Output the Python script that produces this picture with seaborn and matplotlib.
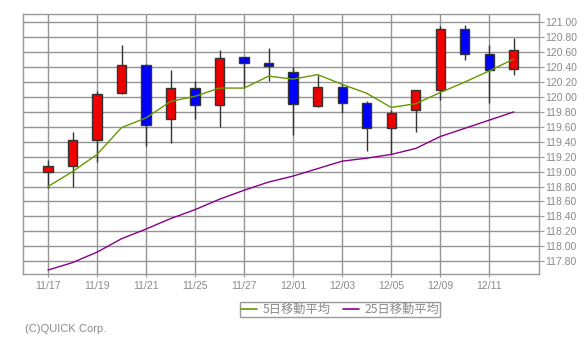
import matplotlib
matplotlib.use("Agg")
import matplotlib.pyplot as plt
import seaborn as sns
import numpy as np
import pandas as pd
from matplotlib.lines import Line2D

# ---- data ----
dates = ["11/17", "11/18", "11/19", "11/20", "11/21", "11/24", "11/25", "11/26", "11/27", "11/28",
         "12/01", "12/02", "12/03", "12/04", "12/05", "12/08", "12/09", "12/10", "12/11", "12/12"]
opens = [119.00, 119.07, 119.42, 120.05, 120.43, 119.70, 120.12, 119.89, 120.53, 120.45,
         120.33, 119.88, 120.14, 119.92, 119.58, 119.82, 120.09, 120.91, 120.57, 120.37]
highs = [119.16, 119.53, 120.08, 120.70, 120.44, 120.36, 120.22, 120.63, 120.53, 120.66,
         120.40, 120.30, 120.18, 119.95, 119.83, 120.09, 120.95, 120.97, 120.70, 120.79]
lows = [118.78, 118.79, 119.13, 120.04, 119.34, 119.39, 119.71, 119.60, 120.12, 120.21,
        119.49, 119.86, 119.78, 119.27, 119.23, 119.53, 119.96, 120.49, 119.92, 120.30]
closes = [119.07, 119.43, 120.04, 120.43, 119.62, 120.12, 119.89, 120.52, 120.45, 120.41,
          119.90, 120.14, 119.92, 119.58, 119.78, 120.09, 120.91, 120.57, 120.36, 120.63]
ma5 = [118.80, 119.00, 119.23, 119.59, 119.72, 119.94, 120.01, 120.12, 120.12, 120.28,
       120.24, 120.30, 120.17, 120.05, 119.86, 119.91, 120.06, 120.20, 120.35, 120.51]
ma25 = [117.68, 117.78, 117.92, 118.10, 118.23, 118.37, 118.49, 118.63, 118.75, 118.86,
        118.94, 119.04, 119.14, 119.18, 119.23, 119.31, 119.47, 119.58, 119.69, 119.80]
ytick_values = [117.80, 118.00, 118.20, 118.40, 118.60, 118.80, 119.00, 119.20, 119.40,
                119.60, 119.80, 120.00, 120.20, 120.40, 120.60, 120.80, 121.00]
legend_labels = ["5日移動平均", "25日移動平均"]
copyright_text = "(C)QUICK Corp."

df = pd.DataFrame({"date": dates, "open": opens, "high": highs, "low": lows,
                   "close": closes, "ma5": ma5, "ma25": ma25})
df["i"] = np.arange(len(df))

sns.set_style("white")
plt.rcParams["font.family"] = ["Liberation Sans", "DejaVu Sans"]

GRAY = "#999999"
TXT = "#8a8a8a"
UP = "#ee0000"
DOWN = "#0000ff"
EDGE = "#333333"
GREEN = "#669900"
PURPLE = "#880088"

W, H = 584, 339
fig = plt.figure(figsize=(W / 100, H / 100), dpi=100)
ax = fig.add_axes([23 / W, 1 - 274 / H, (539 - 23) / W, (274 - 14) / H])

# grid
ax.set_axisbelow(True)
ax.grid(True, color="#949494", lw=1.0, zorder=0)

# candlesticks
up = df["close"] >= df["open"]
ax.vlines(df["i"], df["low"], df["high"], color=EDGE, lw=1.0, zorder=2)
ax.bar(df["i"], (df["close"] - df["open"]).abs(), bottom=df[["open", "close"]].min(axis=1),
       width=0.38, color=np.where(up, UP, DOWN), edgecolor=EDGE, linewidth=1.0, zorder=3)

# moving averages
sns.lineplot(data=df, x="i", y="ma5", ax=ax, color=GREEN, lw=1.0, zorder=4)
sns.lineplot(data=df, x="i", y="ma25", ax=ax, color=PURPLE, lw=1.0, zorder=4)
ax.set_xlabel("")
ax.set_ylabel("")

ax.set_xlim(-1.02, 20.03)
ax.set_ylim(117.627, 121.113)

xt = df["i"].values[::2]
ax.set_xticks(xt)
ax.set_xticklabels(df["date"].values[::2], fontsize=7.5, color=TXT)
ax.set_yticks(ytick_values)
ax.set_yticklabels([f"{v:.2f}" for v in ytick_values], fontsize=7.5, color=TXT)
ax.yaxis.tick_right()
ax.tick_params(axis="y", which="both", right=True, left=False, length=3.5, width=0.8,
               color=GRAY, pad=1.2, direction="out")
ax.tick_params(axis="x", which="both", bottom=True, length=2.5, width=0.8,
               color=GRAY, pad=2.5, direction="out")
for s in ax.spines.values():
    s.set_color(GRAY)
    s.set_linewidth(1.0)
    s.set_visible(True)

handles = [Line2D([], [], color=GREEN, lw=1.2), Line2D([], [], color=PURPLE, lw=1.2)]
leg = fig.legend(handles, legend_labels, loc="center",
                 bbox_to_anchor=(340 / W, 1 - 309.5 / H), ncol=2,
                 prop={"family": ["Noto Sans CJK JP", "DejaVu Sans"], "size": 8.8},
                 frameon=True, fancybox=False, edgecolor=GRAY, framealpha=1,
                 handlelength=1.3, handletextpad=0.45, columnspacing=1.0,
                 borderpad=0.12, borderaxespad=0)
leg.get_frame().set_linewidth(1.0)
for t in leg.get_texts():
    t.set_color(TXT)

fig.text(25 / W, 1 - 329 / H, copyright_text, fontsize=8, color=TXT, va="center", ha="left")

fig.savefig("out.png", dpi=100)
